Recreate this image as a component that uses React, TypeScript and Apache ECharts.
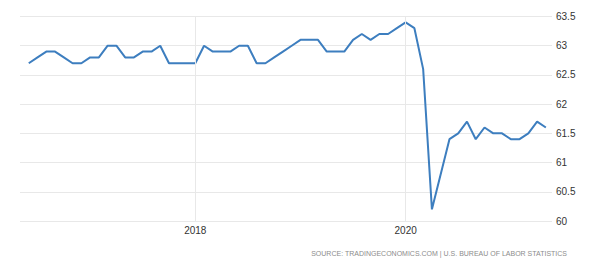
import React, { useEffect, useRef } from "react";
import * as echarts from "echarts";

// Monthly U.S. labor force participation rate, Jun 2016 – May 2021
const startMonth = "2016-06";
const values: number[] = [
  62.7, 62.8, 62.9, 62.9, 62.8, 62.7, 62.7,
  62.8, 62.8, 63.0, 63.0, 62.8, 62.8, 62.9, 62.9, 63.0, 62.7, 62.7, 62.7,
  62.7, 63.0, 62.9, 62.9, 62.9, 63.0, 63.0, 62.7, 62.7, 62.8, 62.9, 63.0,
  63.1, 63.1, 63.1, 62.9, 62.9, 62.9, 63.1, 63.2, 63.1, 63.2, 63.2, 63.3,
  63.4, 63.3, 62.6, 60.2, 60.8, 61.4, 61.5, 61.7, 61.4, 61.6, 61.5, 61.5,
  61.4, 61.4, 61.5, 61.7, 61.6,
];
const xTickYears: number[] = [2018, 2020];
const yTicks: number[] = [60, 60.5, 61, 61.5, 62, 62.5, 63, 63.5];
const sourceText = "SOURCE: TRADINGECONOMICS.COM | U.S. BUREAU OF LABOR STATISTICS";

const baseYear = 2018;
const [sy, sm] = startMonth.split("-").map(Number);
const startOffset = (sy - baseYear) * 12 + (sm - 1);
const seriesData = values.map((v, i) => [startOffset + i, v]);
const yearOffsets = xTickYears.map((y) => (y - baseYear) * 12);

export default function App() {
  const ref = useRef<HTMLDivElement>(null);
  useEffect(() => {
    if (!ref.current) return;
    const chart = echarts.init(ref.current, undefined, { renderer: "svg" });
    const font = "'Liberation Sans', Arial, sans-serif";
    chart.setOption({
      animation: false,
      backgroundColor: "#ffffff",
      grid: { left: 20, right: 54, top: 16.5, bottom: 46, containLabel: false },
      xAxis: {
        type: "value",
        min: -20,
        max: 40.7,
        interval: 4,
        axisLine: { show: false },
        axisTick: { show: false },
        splitLine: { show: false },
        axisLabel: {
          color: "#333",
          fontSize: 10,
          fontFamily: font,
          margin: 4,
          formatter: (v: number) => {
            const k = yearOffsets.indexOf(Math.round(v * 1000) / 1000);
            return k >= 0 ? String(xTickYears[k]) : "";
          },
        },
      },
      yAxis: {
        type: "value",
        position: "right",
        min: yTicks[0],
        max: yTicks[yTicks.length - 1],
        interval: 0.5,
        axisLine: { show: false },
        axisTick: { show: false },
        splitLine: { lineStyle: { color: "#e8e8e8", width: 1 } },
        axisLabel: { color: "#333", fontSize: 10, fontFamily: font, margin: 4 },
      },
      graphic: [
        {
          type: "text",
          x: 567,
          y: 253,
          style: {
            text: sourceText,
            fill: "#8c8c8c",
            fontSize: 7,
            fontFamily: font,
            align: "right",
            verticalAlign: "middle",
          },
        },
      ],
      series: [
        {
          type: "line",
          data: [],
          z: 1,
          silent: true,
          markLine: {
            silent: true,
            symbol: "none",
            label: { show: false },
            lineStyle: { color: "#e8e8e8", width: 1, type: "solid" },
            data: yearOffsets.map((x) => ({ xAxis: x })),
          },
        },
        {
          type: "line",
          data: seriesData,
          z: 3,
          showSymbol: false,
          symbol: "none",
          lineStyle: { color: "#3d7ebf", width: 2 },
        },
      ],
    });
    return () => chart.dispose();
  }, []);
  return (
    <div
      ref={ref}
      style={{ position: "fixed", left: 0, top: 0, width: 606, height: 267 }}
    />
  );
}
